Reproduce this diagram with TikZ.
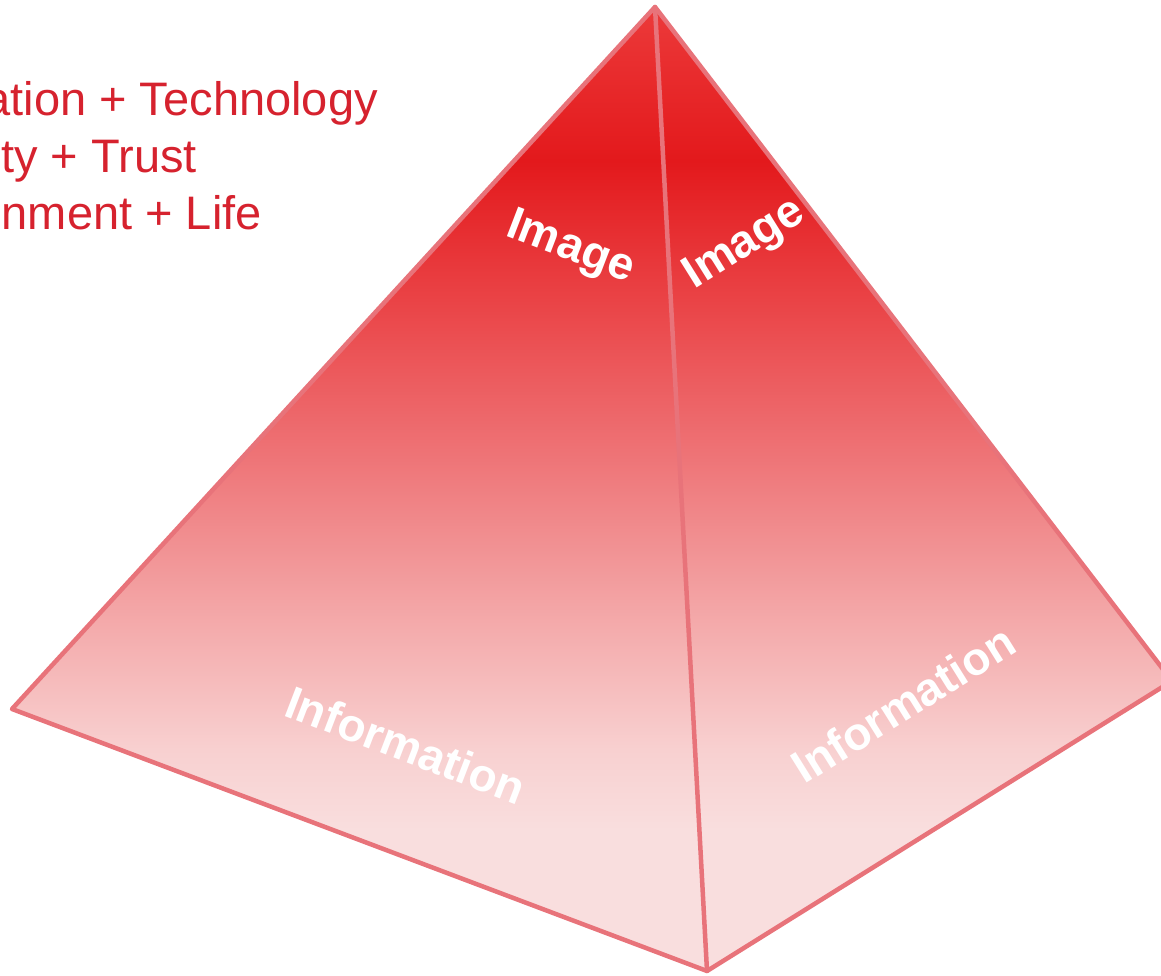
\documentclass[tikz,border=0pt]{standalone}
\usepackage{fontspec}
\setmainfont{Liberation Sans}
\definecolor{edgered}{RGB}{232,115,122}
\definecolor{textred}{RGB}{214,34,46}
\definecolor{sh0}{RGB}{249,222,222}
\definecolor{sh1}{RGB}{248,208,208}
\definecolor{sh2}{RGB}{243,163,164}
\definecolor{sh3}{RGB}{238,114,117}
\definecolor{sh4}{RGB}{234,67,70}
\definecolor{sh5}{RGB}{227,25,28}
\definecolor{sh6}{RGB}{236,58,58}
\pgfdeclareverticalshading{pyramidshade}{100bp}{color(0bp)=(sh0); color(32.3bp)=(sh0);
  color(36.5bp)=(sh1); color(44.2bp)=(sh2); color(52bp)=(sh3); color(59.8bp)=(sh4);
  color(67bp)=(sh5); color(75bp)=(sh6); color(100bp)=(sh6)}
\begin{document}
\begin{tikzpicture}[x=1pt,y=1pt,line join=round,line cap=round,
  edge/.style={draw=edgered,line width=4.5pt},
  facelabel/.style={text=white,inner sep=0pt,font=\bfseries\fontsize{46}{55}\selectfont},
  keyline/.style={text=textred,anchor=base east,inner sep=0pt,font=\fontsize{47}{57}\selectfont}]
	\useasboundingbox (0,0) rectangle (1161,976);
	\clip (0,0) rectangle (1161,976);
	\path 
	(655,969) coordinate (A)
	(12,267) coordinate (L)
	(707,5) coordinate (B)
	(1172,295) coordinate (R)
	;
	\shade[shading=pyramidshade] (A)--(L)--(B)--(R)--cycle;
	\draw[edge] (A)--(L)--(B)--(R)--cycle;
	\draw[edge] (A)--(B);
	% labels on the faces
	\node[facelabel,rotate=-21] (imgL) at (570,727) {Image};
	\node[facelabel,rotate=32] (imgR) at (745,731) {Image};
	\node[facelabel,rotate=-21] (infoL) at (406,231) {Information};
	\node[facelabel,rotate=32] (infoR) at (903,272) {Information};
	% text at the top left
	\node[keyline] (key1) at (378,860) {ation + Technology};
	\node[keyline] (key2) at (197,803) {ty + Trust};
	\node[keyline] (key3) at (262,746) {nment + Life};
\end{tikzpicture}
\end{document}
